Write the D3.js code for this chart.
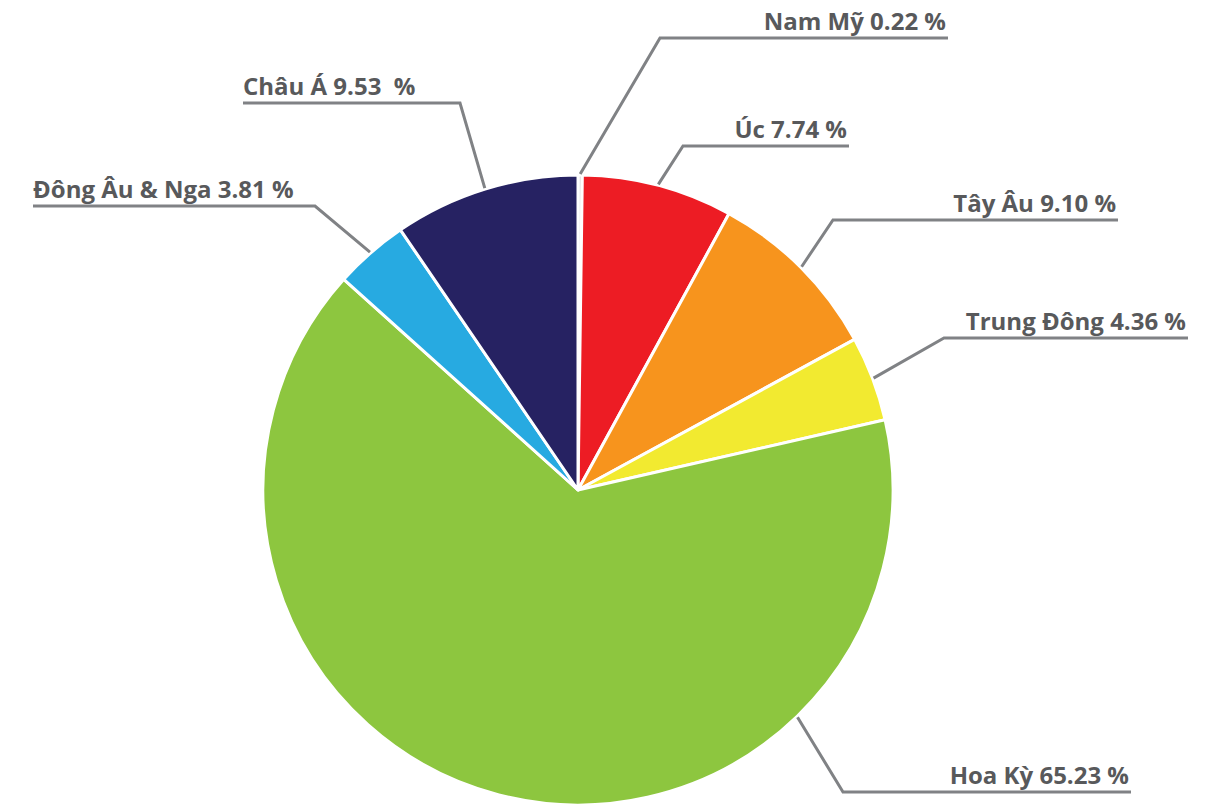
<!DOCTYPE html>
<html>
<head>
<meta charset="utf-8">
<script src="https://d3js.org/d3.v7.min.js"></script>
<style>
  body { margin: 0; background: #fff; }
  svg text { font-family: "Open Sans", sans-serif; font-weight: 700; fill: #58595b; font-size: 24px; white-space: pre; }
</style>
</head>
<body>
<svg id="chart" width="1224" height="807"></svg>
<script>
var regions = ["Nam Mỹ", "Úc", "Tây Âu", "Trung Đông", "Hoa Kỳ", "Đông Âu & Nga", "Châu Á"];
var shares = [0.22, 7.74, 9.10, 4.36, 65.23, 3.81, 9.53];
var labelText = ["Nam Mỹ 0.22 %", "Úc 7.74 %", "Tây Âu 9.10 %", "Trung Đông 4.36 %", "Hoa Kỳ 65.23 %", "Đông Âu & Nga 3.81 %", "Châu Á 9.53  %"];
var colors = ["#d9dadb", "#ed1c24", "#f7941d", "#f2ea30", "#8dc63f", "#27aae1", "#262262"];

// label layout: elbow point, far end of the underline, and where the leader touches the pie (angle in degrees, null = slice middle)
var labelLayout = [
  { ex: 660, ey: 38,  end: 948,  side: "right", touch: null },
  { ex: 683, ey: 146, end: 849,  side: "right", touch: null },
  { ex: 833, ey: 220, end: 1118, side: "right", touch: null },
  { ex: 944, ey: 338, end: 1188, side: "right", touch: null },
  { ex: 843, ey: 792, end: 1131, side: "right", touch: 136 },
  { ex: 315, ey: 206, end: 33,   side: "left",  touch: null },
  { ex: 460, ey: 103, end: 243,  side: "left",  touch: null }
];

var cx = 578, cy = 490, radius = 315;
var svg = d3.select("#chart");
var g = svg.append("g").attr("transform", "translate(" + cx + "," + cy + ")");

var pie = d3.pie().sort(null).value(function(d){ return d; });
var arcs = pie(shares);
var arc = d3.arc().innerRadius(0).outerRadius(radius);

g.selectAll("path.slice").data(arcs).enter().append("path")
  .attr("class", "slice")
  .attr("d", arc)
  .attr("fill", function(d, i){ return colors[i]; })
  .attr("stroke", "#fff")
  .attr("stroke-width", 3)
  .attr("stroke-linejoin", "round");

// leader lines + labels
var leaders = svg.append("g");
arcs.forEach(function(d, i) {
  var L = labelLayout[i];
  var a = L.touch !== null ? L.touch * Math.PI / 180 : (d.startAngle + d.endAngle) / 2;
  var px = cx + Math.sin(a) * (radius + 1);
  var py = cy - Math.cos(a) * (radius + 1);
  leaders.append("polyline")
    .attr("points", [[px, py], [L.ex, L.ey], [L.end, L.ey]].map(function(p){ return p.join(","); }).join(" "))
    .attr("fill", "none")
    .attr("stroke", "#808285")
    .attr("stroke-width", 3);

  var t = leaders.append("text")
    .attr("y", L.ey - 8)
    .text(labelText[i]);
  if (L.side === "right") {
    t.attr("x", L.end - 2).attr("text-anchor", "end");
  } else {
    t.attr("x", L.end).attr("text-anchor", "start");
  }
});
</script>
</body>
</html>
